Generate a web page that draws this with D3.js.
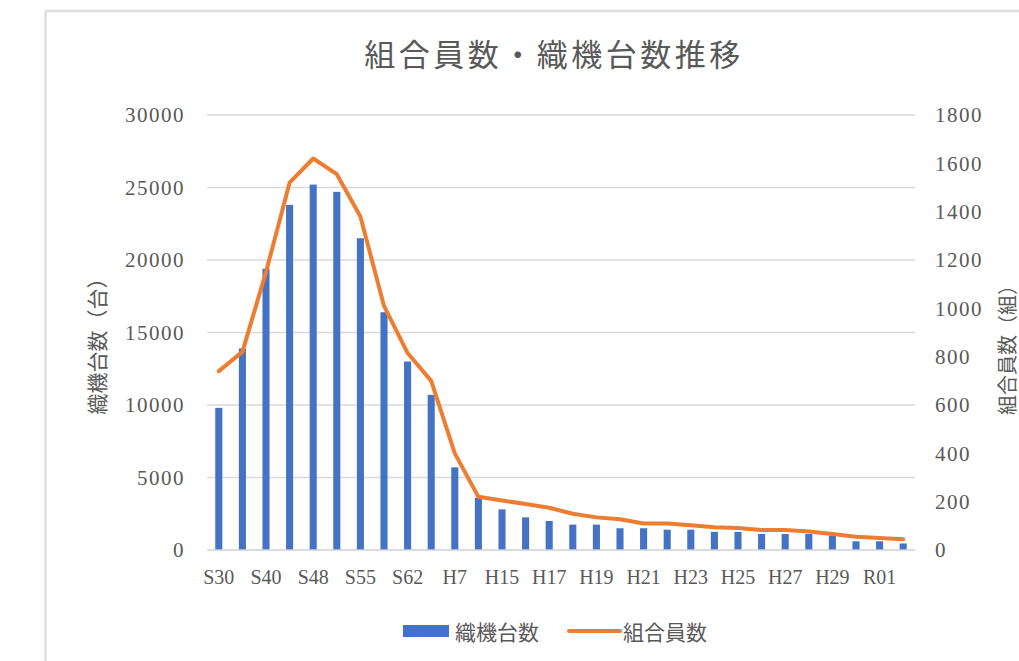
<!DOCTYPE html>
<html>
<head>
<meta charset="utf-8">
<script src="https://cdn.jsdelivr.net/npm/d3@7/dist/d3.min.js"></script>
<style>
  html, body { margin: 0; padding: 0; background: #fff; }
  svg { display: block; }
</style>
</head>
<body>
<svg id="chart" width="1019" height="661"></svg>
<script>
// Fiscal years (Showa / Heisei / Reiwa)
const categories = [
  "S30","S35","S40","S45","S48","S50","S55","S60","S62","H2",
  "H7","H12","H15","H16","H17","H18","H19","H20","H21","H22",
  "H23","H24","H25","H26","H27","H28","H29","H30","R01","R02"
];
// Looms (units) — left axis
const loomCounts = [
  9800,13900,19400,23800,25200,24700,21500,16400,13000,10700,
  5700,3600,2800,2250,2000,1750,1750,1500,1500,1400,
  1400,1250,1250,1100,1100,1100,1000,600,600,450
];
// Union members — right axis
const memberCounts = [
  740,820,1150,1520,1620,1555,1380,1010,815,700,
  400,220,205,190,175,150,135,127,110,110,
  102,94,91,83,83,77,66,55,50,44
];
const leftTicks = [0,5000,10000,15000,20000,25000,30000];
const rightTicks = [0,200,400,600,800,1000,1200,1400,1600,1800];
const labelledCategories = ["S30","S40","S48","S55","S62","H7","H15","H17","H19","H21","H23","H25","H27","H29","R01"];

const title = "組合員数・織機台数推移";
const leftTitle = "織機台数（台）";
const rightTitle = "組合員数（組）";
const barName = "織機台数";
const lineName = "組合員数";

const barColor = "#4472C4";
const lineColor = "#ED7D31";
const textColor = "#595959";
const serif = "'Liberation Serif','DejaVu Serif',serif";
const cjk = "'Noto Sans CJK JP','Noto Sans CJK SC',sans-serif";

const svg = d3.select("#chart");
const plot = { left: 207, right: 915, top: 115, bottom: 550 };

// Outer frame (top and left edges of the chart area)
svg.append("line").attr("x1", 45.5).attr("x2", 1019).attr("y1", 11).attr("y2", 11)
  .attr("stroke", "#dedede").attr("stroke-width", 2.5);
svg.append("line").attr("x1", 45.5).attr("x2", 45.5).attr("y1", 11).attr("y2", 661)
  .attr("stroke", "#dedede").attr("stroke-width", 2.5);

const x = d3.scaleBand().domain(categories).range([plot.left, plot.right]).paddingInner(0.7).paddingOuter(0.35);
const yL = d3.scaleLinear().domain([0, 30000]).range([plot.bottom, plot.top]);
const yR = d3.scaleLinear().domain([0, 1800]).range([plot.bottom, plot.top]);

// Gridlines
svg.append("g").selectAll("line").data(leftTicks.slice(1)).join("line")
  .attr("x1", plot.left).attr("x2", plot.right)
  .attr("y1", d => yL(d)).attr("y2", d => yL(d))
  .attr("stroke", "#d9d9d9").attr("stroke-width", 1.5);

// Left axis labels
const axL = d3.axisLeft(yL).tickValues(leftTicks).tickFormat(d3.format("d")).tickSize(0).tickPadding(0);
const gL = svg.append("g").attr("transform", `translate(185,0)`).call(axL);
gL.select(".domain").remove();
gL.selectAll("text").attr("font-family", serif).attr("font-size", 21)
  .attr("letter-spacing", 1.5).attr("fill", textColor);

// Right axis labels
const axR = d3.axisRight(yR).tickValues(rightTicks).tickFormat(d3.format("d")).tickSize(0).tickPadding(0);
const gR = svg.append("g").attr("transform", `translate(935,0)`).call(axR);
gR.select(".domain").remove();
gR.selectAll("text").attr("font-family", serif).attr("font-size", 21)
  .attr("letter-spacing", 1.5).attr("fill", textColor);

// Bars
svg.append("g").selectAll("rect").data(categories).join("rect")
  .attr("x", (d) => x(d))
  .attr("width", x.bandwidth())
  .attr("y", (d, i) => yL(loomCounts[i]))
  .attr("height", (d, i) => yL(0) - yL(loomCounts[i]))
  .attr("fill", barColor);

// Baseline
svg.append("line").attr("x1", plot.left).attr("x2", plot.right)
  .attr("y1", plot.bottom).attr("y2", plot.bottom)
  .attr("stroke", "#d0d0d0").attr("stroke-width", 1.5);

// Member line
const cx = d => x(d) + x.bandwidth() / 2;
const line = d3.line().x((d, i) => cx(categories[i])).y(d => yR(d));
svg.append("path").datum(memberCounts)
  .attr("d", line)
  .attr("fill", "none").attr("stroke", lineColor)
  .attr("stroke-width", 4).attr("stroke-linejoin", "round").attr("stroke-linecap", "round");

// Category axis
const axX = d3.axisBottom(x).tickValues(labelledCategories).tickSize(0).tickPadding(0);
const gX = svg.append("g").attr("transform", `translate(0,${plot.bottom + 20})`).call(axX);
gX.select(".domain").remove();
gX.selectAll("text").attr("font-family", serif).attr("font-size", 20).attr("fill", textColor);

// Title
svg.append("text").attr("x", 554).attr("y", 66).attr("text-anchor", "middle")
  .attr("font-family", cjk).attr("font-size", 31).attr("letter-spacing", 3.5)
  .attr("fill", textColor).text(title);

// Axis titles
svg.append("text").attr("transform", "translate(96,341) rotate(-90)")
  .attr("text-anchor", "middle").attr("dominant-baseline", "central")
  .attr("font-family", cjk).attr("font-size", 21).attr("fill", textColor).text(leftTitle);
svg.append("text").attr("transform", "translate(1006,345) rotate(-90)")
  .attr("text-anchor", "middle").attr("dominant-baseline", "central")
  .attr("font-family", cjk).attr("font-size", 20).attr("fill", textColor).text(rightTitle);

// Legend
const lg = svg.append("g");
lg.append("rect").attr("x", 403).attr("y", 625).attr("width", 46).attr("height", 12).attr("fill", barColor);
lg.append("text").attr("x", 455).attr("y", 631).attr("dominant-baseline", "central")
  .attr("font-family", cjk).attr("font-size", 21).attr("fill", textColor).text(barName);
lg.append("line").attr("x1", 569).attr("x2", 620).attr("y1", 631).attr("y2", 631)
  .attr("stroke", lineColor).attr("stroke-width", 4).attr("stroke-linecap", "round");
lg.append("text").attr("x", 623).attr("y", 631).attr("dominant-baseline", "central")
  .attr("font-family", cjk).attr("font-size", 21).attr("fill", textColor).text(lineName);
</script>
</body>
</html>
